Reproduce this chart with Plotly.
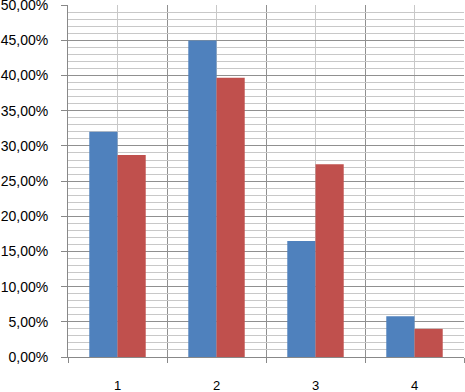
import plotly.graph_objects as go

categories = [1, 2, 3, 4]
tick_labels = ["1", "2", "3", "4"]
series_a = [0.320, 0.450, 0.165, 0.058]
series_b = [0.287, 0.397, 0.274, 0.040]
y_ticks = [0.0, 0.05, 0.10, 0.15, 0.20, 0.25, 0.30, 0.35, 0.40, 0.45, 0.50]

fig = go.Figure()
fig.add_trace(go.Bar(x=categories, y=series_a, marker_color="#4F81BD", marker_line_width=0, name="A"))
fig.add_trace(go.Bar(x=categories, y=series_b, marker_color="#C0504D", marker_line_width=0, name="B"))

fig.update_layout(
    width=465, height=392,
    margin=dict(l=68, r=1, t=5, b=35),
    paper_bgcolor="white", plot_bgcolor="white",
    barmode="group", bargap=0.43, bargroupgap=0,
    showlegend=False,
    separators=", ",
    font=dict(family="Liberation Sans, Arial", size=14, color="#000000"),
)
fig.update_xaxes(
    range=[0.5, 4.5], automargin=False,
    tickmode="array", tickvals=categories, ticktext=tick_labels,
    showgrid=True, gridcolor="#C8C8C8", gridwidth=1,
    ticks="", ticklabelstandoff=16,
    showline=True, linecolor="#888888", linewidth=1,
    zeroline=False,
    tickfont=dict(size=13),
    minor=dict(tickmode="linear", tick0=0.5, dtick=1, showgrid=True, gridcolor="#909090",
               gridwidth=1, ticks="outside", ticklen=5, tickcolor="#888888"),
)
fig.update_yaxes(
    range=[0, 0.5003], automargin=False,
    tickmode="array", tickvals=y_ticks, tickformat=".2%",
    showgrid=True, gridcolor="#909090", gridwidth=1,
    ticks="outside", ticklen=6, tickcolor="#888888",
    ticklabelstandoff=10, ticklabeloverflow="allow",
    showline=True, linecolor="#888888", linewidth=1,
    zeroline=False,
    minor=dict(tickmode="linear", tick0=0, dtick=0.01, showgrid=True, gridcolor="#C8C8C8", gridwidth=1),
)
fig.write_html("out.html", config={"displayModeBar": False},
               post_script="document.body.style.margin='0';")
